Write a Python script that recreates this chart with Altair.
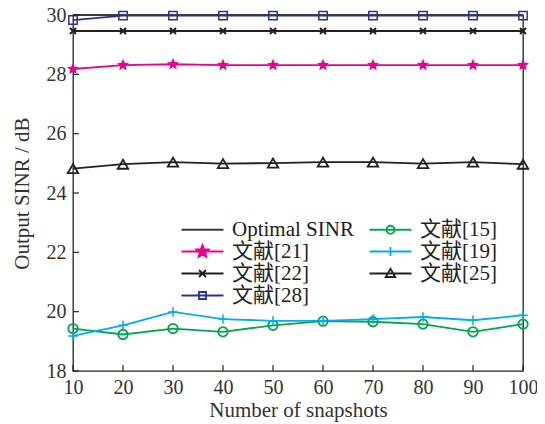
import math
import altair as alt
import pandas as pd

snapshots = [10, 20, 30, 40, 50, 60, 70, 80, 90, 100]
optimal = [30.0] * 10
ref21 = [28.18, 28.31, 28.34, 28.31, 28.31, 28.31, 28.31, 28.31, 28.31, 28.31]
ref22 = [29.46] * 10
ref28 = [29.83, 29.98, 29.98, 29.98, 29.98, 29.98, 29.98, 29.98, 29.98, 29.98]
ref15 = [19.43, 19.23, 19.43, 19.32, 19.54, 19.68, 19.66, 19.58, 19.32, 19.58]
ref19 = [19.18, 19.54, 19.99, 19.75, 19.69, 19.69, 19.75, 19.82, 19.71, 19.88]
ref25 = [24.82, 24.97, 25.04, 24.99, 25.01, 25.04, 25.04, 24.99, 25.04, 24.97]

names = ["Optimal SINR", "文献[21]", "文献[22]", "文献[28]", "文献[15]", "文献[19]", "文献[25]"]
series = [optimal, ref21, ref22, ref28, ref15, ref19, ref25]
colors = ["#3a3a3a", "#EC008C", "#231F20", "#2E3192", "#00A651", "#00AEEF", "#231F20"]

x_ticks = [10, 20, 30, 40, 50, 60, 70, 80, 90, 100]
y_ticks = [18, 20, 22, 24, 26, 28, 30]

rows = []
for n, vals in zip(names, series):
    for xv, yv in zip(snapshots, vals):
        rows.append({"s": n, "x": xv, "y": yv})
df = pd.DataFrame(rows)

legend_order = names  # legend fills column by column
color_map = dict(zip(names, colors))
legend_colors = [color_map[n] for n in legend_order]

W, H = 450, 356
FONT = "Liberation Serif, Noto Sans CJK SC"


def star_path(r_out, r_in, dx=0.0):
    pts = []
    for i in range(10):
        ang = math.radians(-90 + 36 * i)
        r = r_out if i % 2 == 0 else r_in
        pts.append((dx + r * math.cos(ang), r * math.sin(ang)))
    return "M" + "L".join(f"{px:.3f},{py:.3f}" for px, py in pts) + "Z"


L = 4.2
line_seg = f"M{-L},0H{L}"
leg_paths = {
    "Optimal SINR": line_seg,
    "文献[21]": line_seg + star_path(1.3, 0.58),
    "文献[22]": line_seg + "M-0.7,-0.7L0.7,0.7M-0.7,0.7L0.7,-0.7",
    "文献[28]": line_seg + "M-0.7,-0.7H0.7V0.7H-0.7Z",
    "文献[15]": line_seg + "M0.8,0A0.8,0.8,0,1,1,-0.8,0A0.8,0.8,0,1,1,0.8,0Z",
    "文献[19]": line_seg + "M0,-0.9V0.9",
    "文献[25]": line_seg + "M0,-0.95L0.95,0.7H-0.95Z",
}
leg_fill = {n: "transparent" for n in names}
leg_fill["文献[21]"] = "#EC008C"

xs = alt.Scale(domain=[10, 100], nice=False, zero=False)
ys = alt.Scale(domain=[18, 30], nice=False, zero=False)

xenc = alt.X("x:Q", scale=xs, title="Number of snapshots",
             axis=alt.Axis(values=x_ticks, ticks=False, domain=False, grid=False,
                           labelPadding=6, titlePadding=2, labelFlush=False))
yenc = alt.Y("y:Q", scale=ys, title="Output SINR / dB",
             axis=alt.Axis(values=y_ticks, ticks=False, domain=False, grid=False,
                           labelPadding=7, titlePadding=14))

base = alt.Chart(df)

line_layers = []
for n in names:
    line_layers.append(
        base.mark_line(strokeWidth=1.8, color=color_map[n]).encode(
            x=xenc, y=yenc
        ).transform_filter(alt.datum.s == n)
    )

marker_specs = [
    ("文献[21]", dict(shape=star_path(1.0, 0.45), filled=True, size=160)),
    ("文献[22]", dict(shape="M-1,-1L1,1M-1,1L1,-1", filled=False, size=36, strokeWidth=2)),
    ("文献[28]", dict(shape="square", filled=False, size=70, strokeWidth=1.5)),
    ("文献[15]", dict(shape="circle", filled=False, size=90, strokeWidth=1.8)),
    ("文献[19]", dict(shape="M-1,0H1M0,-1V1", filled=False, size=90, strokeWidth=1.5)),
    ("文献[25]", dict(shape="triangle-up", filled=False, size=110, strokeWidth=1.8)),
]
point_layers = []
for n, spec in marker_specs:
    point_layers.append(
        base.mark_point(opacity=1, color=color_map[n], **spec).encode(
            x="x:Q", y="y:Q",
        ).transform_filter(alt.datum.s == n)
    )

legend_def = alt.Legend(
    title=None, orient="none", legendX=119, legendY=204, columns=2,
    symbolSize=100, symbolStrokeWidth=1.8, labelOffset=19, rowPadding=0,
    columnPadding=11, padding=0, labelFont=FONT, labelFontSize=21,
    labelColor="#222", symbolOpacity=1, labelLimit=300,
)
legend_layer = base.mark_point(filled=False).encode(
    x="x:Q", y="y:Q",
    color=alt.Color("s:N", scale=alt.Scale(domain=legend_order, range=legend_colors),
                    legend=legend_def),
    shape=alt.Shape("s:N", scale=alt.Scale(domain=legend_order,
                                           range=[leg_paths[n] for n in legend_order]),
                    legend=legend_def),
    fill=alt.Fill("s:N", scale=alt.Scale(domain=legend_order,
                                         range=[leg_fill[n] for n in legend_order]),
                  legend=legend_def),
).transform_filter("false")

ytick_df = pd.DataFrame({"v": y_ticks})
xtick_df = pd.DataFrame({"v": x_ticks})
ytick_rules = alt.Chart(ytick_df).mark_rule(color="#222", strokeWidth=1.2).encode(
    y=alt.Y("v:Q", scale=ys), x=alt.value(0), x2=alt.value(6))
xtick_rules = alt.Chart(xtick_df).mark_rule(color="#222", strokeWidth=1.2).encode(
    x=alt.X("v:Q", scale=xs), y=alt.value(H), y2=alt.value(H - 6))

chart = alt.layer(
    *line_layers, *point_layers, legend_layer, ytick_rules, xtick_rules
).properties(
    width=W, height=H,
    background="white",
    autosize=alt.AutoSizeParams(type="none"),
    padding={"left": 65, "top": 7, "right": 14, "bottom": 52},
).configure_view(
    stroke="#222", strokeWidth=1.3
).configure_axis(
    labelFont=FONT, labelFontSize=20, labelColor="#333",
    titleFont=FONT, titleFontSize=21, titleColor="#333", titleFontWeight="normal",
)

chart.save("out.html", embed_options={"renderer": "svg", "actions": False})
